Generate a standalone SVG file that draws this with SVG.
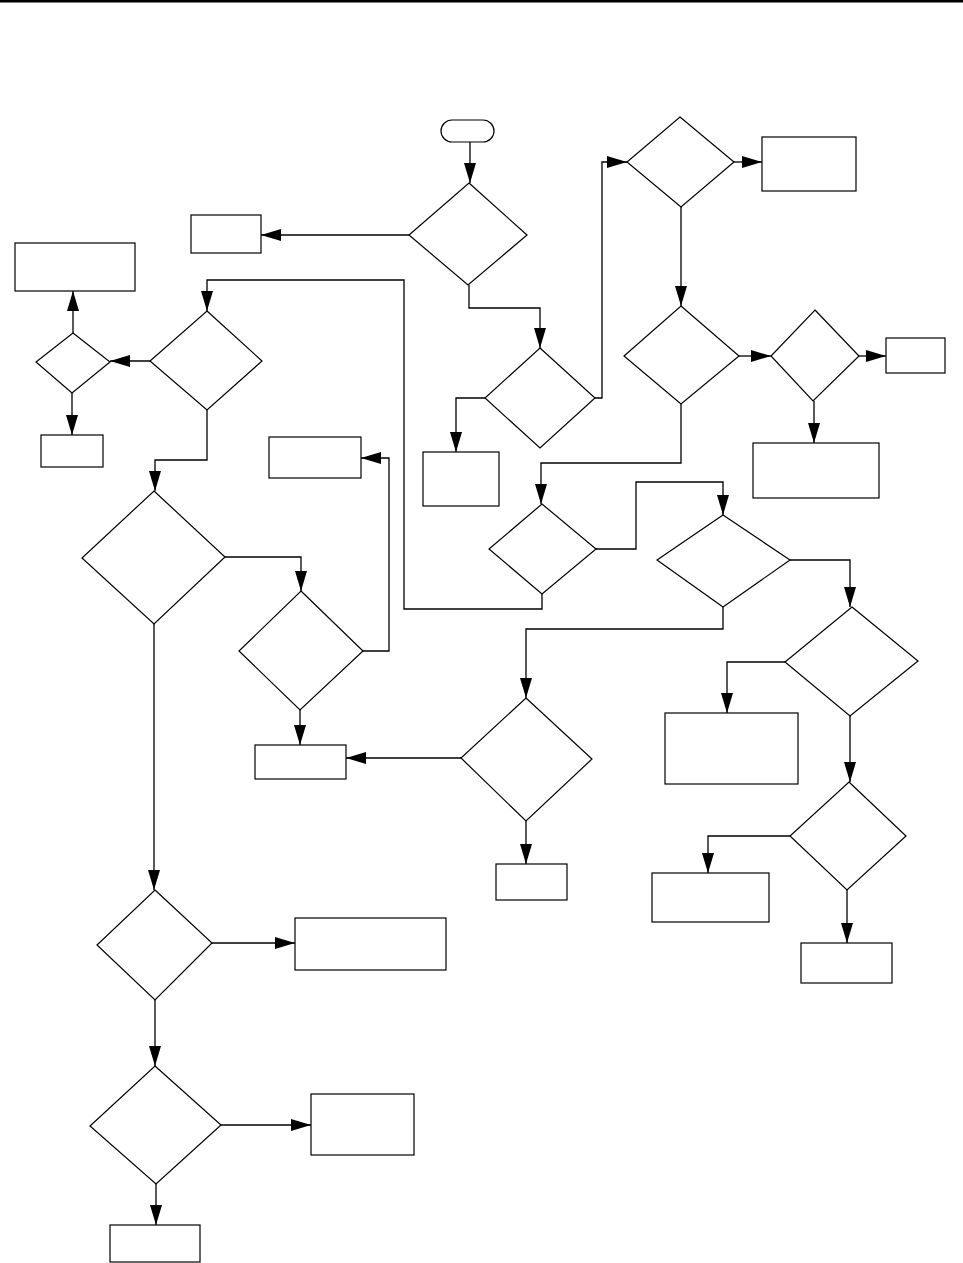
<svg xmlns="http://www.w3.org/2000/svg" width="963" height="1263" viewBox="0 0 963 1263">
<style>
.n{fill:#fff;stroke:#000;stroke-width:1.2}
.c{fill:none;stroke:#000;stroke-width:1.3;marker-end:url(#ah)}
</style>
<defs>
<marker id="ah" markerUnits="userSpaceOnUse" markerWidth="20" markerHeight="12" refX="20" refY="6" orient="auto">
<path d="M0,0 L20,6 L0,12 z" fill="#000"/>
</marker>
</defs>
<rect width="963" height="1263" fill="#fff"/>
<rect x="0" y="0" width="963" height="2.5" fill="#000"/>
<g id="connectors">
<path class="c" d="M470,142 V183"/>
<path class="c" d="M409,235 H261"/>
<path class="c" d="M469,285 V308 H540 V348"/>
<path class="c" d="M595,398 H602 V162 H627"/>
<path class="c" d="M485,398 H456 V452"/>
<path class="c" d="M734,162 H762"/>
<path class="c" d="M681,207 V306"/>
<path class="c" d="M739,356 H771"/>
<path class="c" d="M859,356 H886"/>
<path class="c" d="M814,401 V443"/>
<path class="c" d="M681,404 V463 H541 V504"/>
<path class="c" d="M596,549 H636 V482 H723 V515"/>
<path class="c" d="M542,594 V609 H404 V280 H207 V311"/>
<path class="c" d="M150,361 H110"/>
<path class="c" d="M73,333 V291"/>
<path class="c" d="M72,393 V435"/>
<path class="c" d="M207,410 V460 H155 V491"/>
<path class="c" d="M225,557 H301 V591"/>
<path class="c" d="M363,651 H389 V458 H361"/>
<path class="c" d="M300,710 V745"/>
<path class="c" d="M154,624 V890"/>
<path class="c" d="M212,943 H295"/>
<path class="c" d="M155,1000 V1066"/>
<path class="c" d="M221,1125 H311"/>
<path class="c" d="M156,1184 V1225"/>
<path class="c" d="M790,560 H850 V607"/>
<path class="c" d="M723,607 V629 H526 V698"/>
<path class="c" d="M461,758 H346"/>
<path class="c" d="M526,821 V864"/>
<path class="c" d="M785,662 H727 V713"/>
<path class="c" d="M850,716 V782"/>
<path class="c" d="M790,836 H708 V873"/>
<path class="c" d="M847,890 V943"/>
</g>
<g id="start"><rect class="n" x="441" y="120" width="53" height="22" rx="11"/></g>
<g id="d1"><polygon class="n" points="469,183 527,235 468,285 409,235"/></g>
<g id="d2"><polygon class="n" points="540,348 595,398 540,448 485,398"/></g>
<g id="d3"><polygon class="n" points="680,117 734,162 681,207 627,162"/></g>
<g id="d4"><polygon class="n" points="681,306 739,356 681,404 624,356"/></g>
<g id="d5"><polygon class="n" points="815,310 859,356 813,401 771,356"/></g>
<g id="d6"><polygon class="n" points="542,504 596,549 542,594 489,549"/></g>
<g id="d7"><polygon class="n" points="723,515 790,560 723,607 657,560"/></g>
<g id="d8"><polygon class="n" points="207,311 262,361 207,410 150,361"/></g>
<g id="d9"><polygon class="n" points="73,333 110,362 72,393 36,362"/></g>
<g id="d10"><polygon class="n" points="154,491 225,557 154,624 82,558"/></g>
<g id="d11"><polygon class="n" points="301,591 363,651 300,710 239,651"/></g>
<g id="d12"><polygon class="n" points="155,890 212,943 155,1000 97,945"/></g>
<g id="d13"><polygon class="n" points="155,1066 221,1125 156,1184 90,1126"/></g>
<g id="d14"><polygon class="n" points="852,607 918,661 850,716 785,662"/></g>
<g id="d15"><polygon class="n" points="526,698 592,759 526,821 461,758"/></g>
<g id="d16"><polygon class="n" points="849,782 906,836 847,890 790,836"/></g>
<g id="b1"><rect class="n" x="191" y="215" width="70" height="38"/></g>
<g id="b2"><rect class="n" x="423" y="452" width="76" height="54"/></g>
<g id="b3"><rect class="n" x="762" y="137" width="94" height="54"/></g>
<g id="b4"><rect class="n" x="886" y="338" width="59" height="35"/></g>
<g id="b5"><rect class="n" x="753" y="443" width="126" height="55"/></g>
<g id="b6"><rect class="n" x="15" y="243" width="120" height="48"/></g>
<g id="b7"><rect class="n" x="41" y="435" width="62" height="32"/></g>
<g id="b8"><rect class="n" x="269" y="437" width="92" height="41"/></g>
<g id="b9"><rect class="n" x="255" y="745" width="91" height="34"/></g>
<g id="b10"><rect class="n" x="295" y="918" width="151" height="52"/></g>
<g id="b11"><rect class="n" x="311" y="1094" width="103" height="61"/></g>
<g id="b12"><rect class="n" x="110" y="1225" width="90" height="37"/></g>
<g id="b13"><rect class="n" x="496" y="864" width="71" height="36"/></g>
<g id="b14"><rect class="n" x="665" y="713" width="133" height="71"/></g>
<g id="b15"><rect class="n" x="652" y="873" width="117" height="49"/></g>
<g id="b16"><rect class="n" x="801" y="943" width="91" height="40"/></g>
</svg>
